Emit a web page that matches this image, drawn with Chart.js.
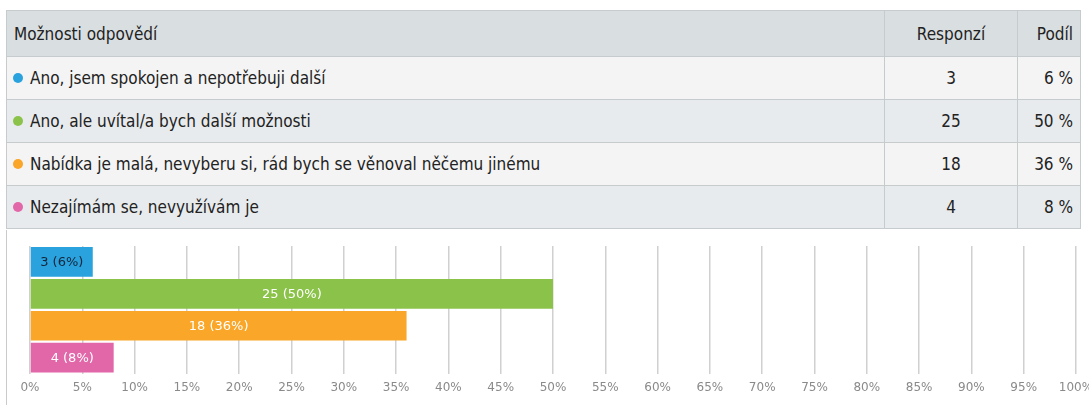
<!DOCTYPE html>
<html>
<head>
<meta charset="utf-8">
<script src="https://cdn.jsdelivr.net/npm/chart.js@4"></script>
<style>
    html, body { margin: 0; padding: 0; background: #fff; overflow: hidden; width: 1089px; height: 405px; }
    body { position: relative; font-family: "Liberation Sans Narrow", "DejaVu Sans Condensed", "Roboto Condensed", "Open Sans", sans-serif; color: #222; }
    table { position: absolute; left: 6px; top: 10px; width: 1075px; border-collapse: collapse; font-size: 17px; }
    th, td { border: 1px solid #c6cbce; padding: 0 7px; height: 42px; font-weight: normal; }
    th { background: #d9dee1; height: 45px; text-align: left; }
    tr.odd td { background: #f4f4f4; }
    tr.even td { background: #e8ebed; }
    .c2 { width: 118px; text-align: center; }
    .c3 { width: 48px; text-align: right; }
    .dot { display: inline-block; width: 10px; height: 10px; border-radius: 50%; margin: 0 7px 0 -1px; vertical-align: 1px; }
    #chartBox { position: absolute; left: 7px; top: 230px; width: 1113px; height: 175px; border-left: 1px solid #c6cbce; margin-left: -1px; }
</style>
</head>
<body>
<table id="tbl"></table>
<div id="chartBox"><canvas id="chart"></canvas></div>
<script>
const categories = [
    'Ano, jsem spokojen a nepotřebuji další',
    'Ano, ale uvítal/a bych další možnosti',
    'Nabídka je malá, nevyberu si, rád bych se věnoval něčemu jinému',
    'Nezajímám se, nevyužívám je'
];
const responses = [3, 25, 18, 4];
const shares = [6, 50, 36, 8];
const colors = ['#2aa2de', '#8bc34a', '#f9a629', '#e267a8'];
const labelColors = ['#13253a', '#ffffff', '#ffffff', '#ffffff'];
const xTicks = [0, 5, 10, 15, 20, 25, 30, 35, 40, 45, 50, 55, 60, 65, 70, 75, 80, 85, 90, 95, 100];

const tbl = document.getElementById('tbl');
tbl.innerHTML = `
    <tr><th>Možnosti odpovědí</th><th class="c2">Responzí</th><th class="c3">Podíl</th></tr>
` + categories.map((cat, i) => `
    <tr class="${i % 2 ? 'even' : 'odd'}">
        <td><span class="dot" style="background:${colors[i]}"></span>${cat}</td>
        <td class="c2">${responses[i]}</td>
        <td class="c3">${shares[i]} %</td>
    </tr>
`).join('');

// labels inside bars, like "25 (50%)"
const barLabels = {
    id: 'barLabels',
    afterDatasetsDraw(chart) {
        const ctx = chart.ctx;
        const meta = chart.getDatasetMeta(0);
        ctx.save();
        ctx.font = '13px "DejaVu Sans"';
        ctx.textAlign = 'center';
        ctx.textBaseline = 'middle';
        meta.data.forEach((bar, i) => {
            ctx.fillStyle = labelColors[i];
            ctx.fillText(`${responses[i]} (${shares[i]}%)`, (bar.base + bar.x) / 2, bar.y + 1);
        });
        ctx.restore();
    }
};

new Chart(document.getElementById('chart'), {
    type: 'bar',
    data: {
        labels: categories,
        datasets: [{
            data: shares,
            backgroundColor: colors,
            borderWidth: 0,
            barPercentage: 0.93,
            categoryPercentage: 1
        }]
    },
    options: {
        indexAxis: 'y',
        responsive: true,
        maintainAspectRatio: false,
        animation: false,
        layout: {padding: {left: 23, right: 44, top: 16, bottom: 3}},
        plugins: {legend: {display: false}, tooltip: {enabled: false}},
        scales: {
            x: {
                min: 0,
                max: 100,
                afterBuildTicks: axis => { axis.ticks = xTicks.map(v => ({value: v})); },
                grid: {color: '#d0d0d0', lineWidth: 1.5, drawTicks: false},
                border: {display: false},
                ticks: {
                    color: '#8a8a8a',
                    padding: 7,
                    font: {family: 'DejaVu Sans', size: 12},
                    callback: v => v + '%'
                }
            },
            y: {display: false}
        }
    },
    plugins: [barLabels]
});
</script>
</body>
</html>
